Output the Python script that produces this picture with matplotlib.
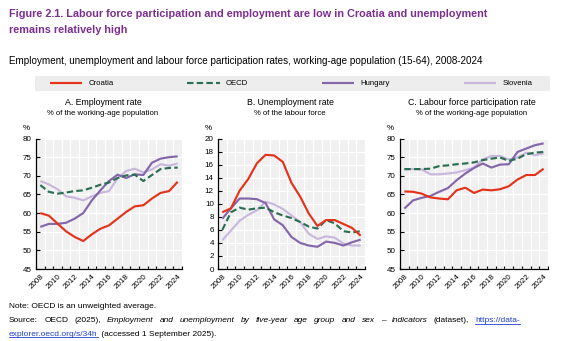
import matplotlib
matplotlib.use("Agg")
import matplotlib.pyplot as plt
from matplotlib import font_manager
from matplotlib.lines import Line2D
from matplotlib.patches import Rectangle
import numpy as np

# ---------------- data ----------------
years = list(range(2008, 2025))
series_names = ["Croatia", "OECD", "Hungary", "Slovenia"]

emp_croatia = [60.0, 59.3, 57.2, 55.1, 53.6, 52.5, 54.3, 55.8, 56.7, 58.5, 60.3, 61.8, 62.1, 63.9, 65.4, 65.9, 68.4]
emp_oecd = [67.5, 65.7, 65.2, 65.5, 65.9, 66.1, 66.8, 67.6, 68.2, 69.4, 70.1, 70.3, 68.6, 70.2, 71.8, 72.1, 72.2]
emp_hungary = [56.3, 57.1, 57.1, 57.4, 58.5, 60.0, 63.4, 66.1, 68.6, 70.3, 69.4, 70.4, 70.2, 73.5, 74.6, 75.0, 75.2]
emp_slovenia = [68.6, 67.7, 66.4, 64.5, 64.1, 63.4, 64.5, 65.4, 65.9, 69.3, 71.3, 71.9, 70.9, 71.7, 73.1, 72.7, 73.3]

unemp_croatia = [8.7, 9.3, 12.0, 13.8, 16.2, 17.5, 17.4, 16.4, 13.2, 11.1, 8.5, 6.6, 7.5, 7.5, 6.9, 6.3, 5.1]
unemp_oecd = [6.0, 8.7, 9.4, 9.1, 9.3, 9.4, 8.7, 8.2, 7.8, 7.2, 6.5, 6.2, 7.5, 7.0, 5.8, 5.6, 5.8]
unemp_hungary = [7.7, 9.3, 10.8, 10.8, 10.7, 10.1, 7.6, 6.7, 4.9, 4.0, 3.6, 3.4, 4.2, 4.0, 3.6, 4.1, 4.5]
unemp_slovenia = [4.4, 5.9, 7.4, 8.3, 9.0, 10.3, 9.9, 9.2, 8.2, 7.2, 5.4, 4.6, 5.0, 4.8, 3.9, 3.6, 3.6]

lfp_croatia = [65.8, 65.7, 65.2, 64.2, 63.9, 63.7, 66.1, 66.8, 65.4, 66.3, 66.1, 66.4, 67.2, 69.0, 70.2, 70.2, 71.9]
lfp_oecd = [71.8, 71.8, 71.8, 71.9, 72.6, 72.8, 73.1, 73.3, 73.6, 74.2, 74.6, 74.9, 74.0, 74.6, 75.8, 76.2, 76.4]
lfp_hungary = [61.2, 63.4, 64.1, 64.6, 65.7, 66.7, 68.8, 70.6, 72.1, 73.3, 72.2, 73.0, 73.1, 76.4, 77.3, 78.2, 78.7]
lfp_slovenia = [71.7, 71.8, 71.7, 70.4, 70.4, 70.6, 70.9, 71.5, 72.2, 74.4, 75.3, 75.3, 74.4, 74.9, 76.2, 75.5, 76.0]

panel_titles = ["A. Employment rate", "B. Unemployment rate", "C. Labour force participation rate"]
panel_subtitles = ["% of the working-age population", "% of the labour force", "% of the working-age population"]
y_ranges = [(45, 80, 5), (0, 20, 2), (45, 80, 5)]

title_lines = ["Figure 2.1. Labour force participation and employment are low in Croatia and unemployment",
               "remains relatively high"]
subtitle = "Employment, unemployment and labour force participation rates, working-age population (15-64), 2008-2024"
note = "Note: OECD is an unweighted average."

# ---------------- style ----------------
avail = {f.name for f in font_manager.fontManager.ttflist}
BASE = "Liberation Sans" if "Liberation Sans" in avail else "DejaVu Sans"
NARROW = "Liberation Sans Narrow" if "Liberation Sans Narrow" in avail else BASE
plt.rcParams["font.family"] = [BASE, "DejaVu Sans"]

colors = {"Croatia": "#E5331B", "OECD": "#2B6E51", "Hungary": "#8466AB", "Slovenia": "#C9B7DD"}
styles = {"Croatia": dict(ls="-"), "OECD": dict(ls=(0, (3.0, 1.5))),
          "Hungary": dict(ls="-"), "Slovenia": dict(ls="-")}
TITLE_COL = "#7D2E91"
W, H = 569, 341

fig = plt.figure(figsize=(W / 100, H / 100), dpi=100)
fig.patch.set_facecolor("white")


def fx(px):
    return px / W


def fy(py):
    return 1 - py / H


panel_data = [
    {"Croatia": emp_croatia, "OECD": emp_oecd, "Hungary": emp_hungary, "Slovenia": emp_slovenia},
    {"Croatia": unemp_croatia, "OECD": unemp_oecd, "Hungary": unemp_hungary, "Slovenia": unemp_slovenia},
    {"Croatia": lfp_croatia, "OECD": lfp_oecd, "Hungary": lfp_hungary, "Slovenia": lfp_slovenia},
]
boxes = [(36, 182), (218, 365), (400, 548)]
top_px, bot_px = 138.5, 269
title_centers = [103, 290, 472]

handles = {}
for i, (data, (l, r), (y0, y1, ys)) in enumerate(zip(panel_data, boxes, y_ranges)):
    ax = fig.add_axes([fx(l), fy(bot_px), fx(r) - fx(l), (bot_px - top_px) / H])
    ax.set_facecolor("#F0F0F0")
    for name in ["Slovenia", "Hungary", "OECD", "Croatia"]:
        ln, = ax.plot(years, data[name], color=colors[name], lw=1.55, solid_capstyle="butt",
                      label=name, **styles[name])
        handles[name] = ln
    ax.set_xlim(years[0] - 0.5, years[-1] + 0.5)
    ax.set_ylim(y0, y1)
    ax.set_yticks(np.arange(y0, y1 + 0.01, ys))
    ax.set_xticks(years[::2])
    ax.set_xticks(np.arange(years[0] - 0.5, years[-1] + 0.6, 1), minor=True)
    ax.set_xticklabels([str(y) for y in years[::2]], rotation=45, ha="right", va="top",
                       rotation_mode="anchor")
    ax.tick_params(axis="x", which="major", length=0, pad=3, labelsize=5.8)
    ax.tick_params(axis="x", which="minor", length=2.5, direction="in", width=0.8)
    ax.tick_params(axis="y", length=3, direction="in", width=0.8, pad=3, labelsize=5.8)
    ax.grid(True, axis="y", which="major", color="white", lw=0.9)
    ax.grid(True, axis="x", which="minor", color="white", lw=0.9)
    ax.set_axisbelow(True)
    for s in ["top", "right"]:
        ax.spines[s].set_visible(False)
    for s in ["left", "bottom"]:
        ax.spines[s].set_linewidth(0.9)
        ax.spines[s].set_color("black")
    ax.annotate("%", xy=(0, 1), xycoords="axes fraction", xytext=(-10, 7),
                textcoords="offset pixels", fontsize=5.8, ha="center", va="bottom")
    fig.text(fx(title_centers[i]), fy(103), panel_titles[i], ha="center", va="center",
             fontsize=6.3, family=NARROW, color="black")
    fig.text(fx(title_centers[i]), fy(114), panel_subtitles[i], ha="center", va="center",
             fontsize=5.6, family=NARROW, color="black")

# legend box
fig.add_artist(Rectangle((fx(35), fy(91)), fx(550) - fx(35), (91 - 76) / H,
                         transform=fig.transFigure, facecolor="#EDEDED", edgecolor="none"))
fig.legend([handles[n] for n in series_names], series_names, loc="center left",
           bbox_to_anchor=(fx(48), fy(83.5), fx(534) - fx(48), 0), mode="expand", ncol=4,
           frameon=False, handlelength=4.2, handletextpad=0.8,
           borderaxespad=0, borderpad=0.2, prop={"family": NARROW, "size": 5.6})

# titles
fig.canvas.draw()
rend = fig.canvas.get_renderer()


def fit(t, target_w):
    wdt = t.get_window_extent(rend).width
    t.set_fontsize(t.get_fontsize() * target_w / wdt)


tl1 = fig.text(fx(9), fy(17), title_lines[0], fontsize=7.6, fontweight="bold", color=TITLE_COL,
               ha="left", va="baseline")
fit(tl1, 474)
fig.text(fx(9), fy(33), title_lines[1], fontsize=tl1.get_fontsize(), fontweight="bold",
         color=TITLE_COL, ha="left", va="baseline")
st = fig.text(fx(9), fy(63.5), subtitle, fontsize=6.5, family=NARROW, color="black",
              ha="left", va="baseline")
fit(st, 476)

# notes
NS = 6.0
fig.text(fx(9), fy(308), note, fontsize=NS, family=NARROW, color="black", ha="left", va="baseline")

LINK = "#1F3FD1"
words = [("Source:", "normal", "black"), ("OECD", "normal", "black"), ("(2025),", "normal", "black"),
         ("Employment", "italic", "black"), ("and", "italic", "black"), ("unemployment", "italic", "black"),
         ("by", "italic", "black"), ("five-year", "italic", "black"), ("age", "italic", "black"),
         ("group", "italic", "black"), ("and", "italic", "black"), ("sex", "italic", "black"),
         ("–", "italic", "black"), ("indicators", "italic", "black"), ("(dataset),", "normal", "black"),
         ("https://data-", "normal", LINK)]
texts = []
for w_, sty, c in words:
    t = fig.text(0, fy(322), w_, fontsize=NS, family=NARROW, style=sty, color=c,
                 ha="left", va="baseline")
    texts.append(t)
widths = [t.get_window_extent(rend).width for t in texts]
x_left, x_right = 9, 520
gap = (x_right - x_left - sum(widths)) / (len(texts) - 1)
x = x_left
for t, wdt in zip(texts, widths):
    t.set_x(fx(x))
    x += wdt + gap
lx0 = x_right - widths[-1]
fig.add_artist(Line2D([fx(lx0), fx(x_right)], [fy(323.5), fy(323.5)], transform=fig.transFigure,
                      color=LINK, lw=0.6))
t1 = fig.text(fx(9), fy(335.5), "explorer.oecd.org/s/34h", fontsize=NS, family=NARROW,
              color=LINK, ha="left", va="baseline")
w1 = t1.get_window_extent(rend).width
fig.add_artist(Line2D([fx(9), fx(9 + w1)], [fy(337), fy(337)], transform=fig.transFigure,
                      color=LINK, lw=0.6))
fig.text(fx(9 + w1 + 1.5), fy(335.5), " (accessed 1 September 2025).", fontsize=NS, family=NARROW,
         color="black", ha="left", va="baseline")

fig.savefig("out.png", dpi=100)
